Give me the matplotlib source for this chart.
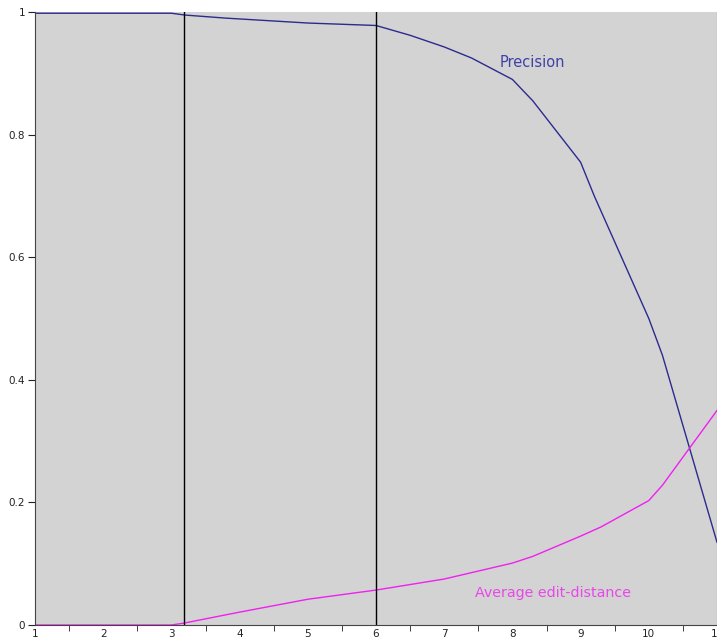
import numpy as np
import matplotlib.pyplot as plt
from matplotlib.ticker import MultipleLocator

# Precision and average edit distance against threshold
prec_x = [1, 2, 3, 3.2, 3.8, 5, 6, 6.5, 7, 7.4, 8, 8.3, 9, 9.2, 10, 10.2, 11]
prec_y = [0.998, 0.998, 0.998, 0.995, 0.990, 0.982, 0.978, 0.962, 0.943,
          0.925, 0.890, 0.855, 0.755, 0.700, 0.500, 0.440, 0.135]

dist_x = [1, 2, 3, 3.18, 4, 5, 6, 7, 8, 8.3, 9, 9.3, 10, 10.2, 11]
dist_y = [0.0, 0.0, 0.0, 0.003, 0.021, 0.042, 0.057, 0.075, 0.101, 0.112,
          0.145, 0.160, 0.203, 0.228, 0.350]

vlines = [3.18, 6]

fig = plt.figure(figsize=(7.17, 6.39), dpi=100)
ax = fig.add_axes([35 / 717, 14 / 639, 682 / 717, 613 / 639])
ax.set_facecolor("#d3d3d3")

ax.plot(prec_x, prec_y, color="#2b2b8f", lw=1.0)
ax.plot(dist_x, dist_y, color="#f020f0", lw=1.0)
for v in vlines:
    ax.axvline(v, color="black", lw=1)

ax.text(7.82, 0.918, "Precision", color="#4040a8", fontsize=10.5,
        ha="left", va="center")
ax.text(7.45, 0.052, "Average edit-distance", color="#e848e8", fontsize=10.3,
        ha="left", va="center")

ax.set_xlim(1, 11)
ax.set_ylim(0, 1)
ax.xaxis.set_major_locator(MultipleLocator(1))
ax.set_xticks(np.arange(1.5, 11, 1), minor=True)
ax.tick_params(axis="x", which="major", length=0, pad=3, labelsize=7.5,
               colors="#222222")
ax.tick_params(axis="x", which="minor", length=4, direction="out",
               color="#222222")
ax.set_yticks(np.arange(0, 1.01, 0.2))
ax.yaxis.set_major_formatter(plt.FuncFormatter(lambda v, p: f"{v:g}"))
ax.tick_params(axis="y", length=5, pad=2, labelsize=7.5, colors="#222222")

ax.spines["top"].set_visible(False)
ax.spines["right"].set_color("#888888")
ax.spines["left"].set_color("#444444")
ax.spines["bottom"].set_color("#444444")

fig.savefig("out.png", dpi=100)
